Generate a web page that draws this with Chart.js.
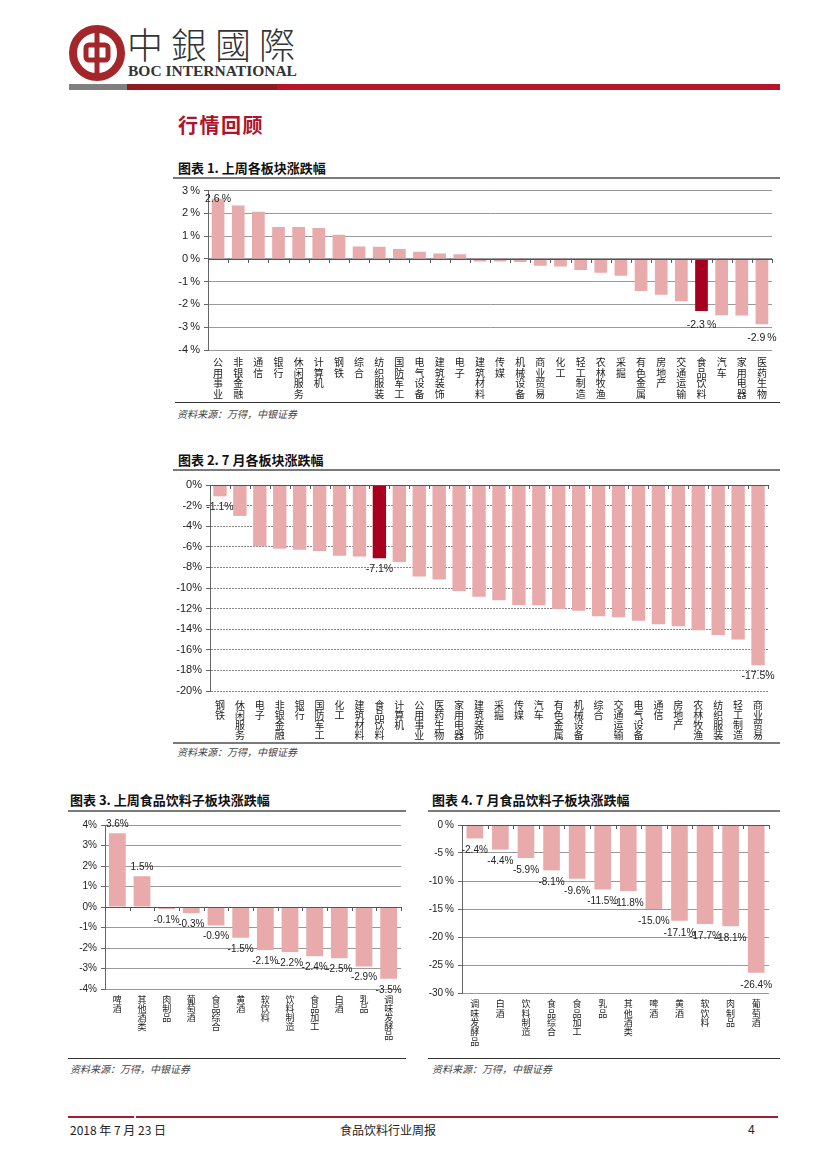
<!DOCTYPE html>
<html><head><meta charset="utf-8">
<script src="https://cdn.jsdelivr.net/npm/chart.js@4.4.0/dist/chart.umd.min.js"></script>
<style>
body{margin:0;background:#fff;}
#page{position:relative;width:827px;height:1169px;overflow:hidden;font-family:'Noto Sans CJK SC',sans-serif;color:#111;}
.abs{position:absolute;}
.title{font-weight:700;font-size:13px;color:#111;white-space:nowrap;line-height:16px;}
.src{font-style:italic;font-size:10px;color:#444;white-space:nowrap;line-height:12px;}
.hl{height:2px;background:#7a7a7a;}
.tl{height:1px;background:#333;}
.cbox{position:absolute;}
</style></head><body><div id="page">

<!-- header -->
<svg class="abs" style="left:68px;top:24px" width="60" height="58" viewBox="0 0 60 58">
  <circle cx="29" cy="29" r="24" fill="none" stroke="#A3262A" stroke-width="8"/>
  <rect x="18" y="21" width="22" height="15" rx="3" fill="none" stroke="#A3262A" stroke-width="5"/>
  <rect x="26.5" y="5" width="5" height="48" fill="#A3262A"/>
</svg>
<div class="abs" style="left:127px;top:20px;font-family:'Noto Sans CJK TC';font-weight:300;font-size:36px;letter-spacing:8px;line-height:46px;color:#333;white-space:nowrap">中銀國際</div>
<div class="abs" style="left:128px;top:62px;font-family:'Liberation Serif';font-weight:700;font-size:15.5px;line-height:18px;color:#333;white-space:nowrap">BOC INTERNATIONAL</div>
<div class="abs" style="left:69px;top:84px;width:58px;height:6px;background:#808080"></div>
<div class="abs" style="left:127px;top:84px;width:150px;height:6px;background:#8E1B22"></div>
<div class="abs" style="left:277px;top:84px;width:503px;height:6px;background:#B8142B"></div>

<div class="abs" style="left:178px;top:111px;font-size:20px;font-weight:700;color:#B0122B;letter-spacing:1.5px;line-height:28px;white-space:nowrap">行情回顾</div>

<!-- chart 1 -->
<div class="abs title" style="left:178px;top:160px">图表 1. 上周各板块涨跌幅</div>
<div class="abs hl" style="left:173px;top:177px;width:607px"></div>
<div class="cbox" style="left:160px;top:180px;width:620px;height:222px"><canvas id="c1"></canvas></div>
<div class="abs tl" style="left:175px;top:402px;width:605px"></div>
<div class="abs src" style="left:177px;top:408px">资料来源：万得，中银证券</div>

<!-- chart 2 -->
<div class="abs title" style="left:178px;top:452px">图表 2. 7 月各板块涨跌幅</div>
<div class="abs hl" style="left:173px;top:469px;width:607px"></div>
<div class="cbox" style="left:160px;top:474px;width:620px;height:270px"><canvas id="c2"></canvas></div>
<div class="abs hl" style="left:173px;top:742px;width:607px"></div>
<div class="abs src" style="left:177px;top:746px">资料来源：万得，中银证券</div>

<!-- chart 3 -->
<div class="abs title" style="left:70px;top:792px">图表 3. 上周食品饮料子板块涨跌幅</div>
<div class="abs hl" style="left:68px;top:810px;width:338px"></div>
<div class="cbox" style="left:60px;top:815px;width:350px;height:240px"><canvas id="c3"></canvas></div>
<div class="abs tl" style="left:68px;top:1058px;width:338px"></div>
<div class="abs src" style="left:70px;top:1063px">资料来源：万得，中银证券</div>

<!-- chart 4 -->
<div class="abs title" style="left:432px;top:792px">图表 4. 7 月食品饮料子板块涨跌幅</div>
<div class="abs hl" style="left:428px;top:810px;width:352px"></div>
<div class="cbox" style="left:420px;top:815px;width:360px;height:240px"><canvas id="c4"></canvas></div>
<div class="abs tl" style="left:428px;top:1058px;width:352px"></div>
<div class="abs src" style="left:432px;top:1063px">资料来源：万得，中银证券</div>

<!-- footer -->
<div class="abs" style="left:68px;top:1116px;width:66px;height:2px;background:#A51C2D"></div>
<div class="abs" style="left:136px;top:1116px;width:642px;height:2px;background:#A51C2D"></div>
<div class="abs" style="left:70px;top:1122px;font-size:12px;line-height:16px;color:#222;white-space:nowrap;font-family:'Liberation Sans Narrow','Noto Sans CJK SC',sans-serif">2018 年 7 月 23 日</div>
<div class="abs" style="left:340px;top:1122px;font-size:12px;line-height:16px;color:#222;white-space:nowrap">食品饮料行业周报</div>
<div class="abs" style="left:748px;top:1122px;font-size:12px;line-height:16px;color:#222;font-family:'Liberation Sans'">4</div>

</div>
<script>
// ---------------- data ----------------
const cat1 = ['公用事业','非银金融','通信','银行','休闲服务','计算机','钢铁','综合','纺织服装','国防军工','电气设备','建筑装饰','电子','建筑材料','传媒','机械设备','商业贸易','化工','轻工制造','农林牧渔','采掘','有色金属','房地产','交通运输','食品饮料','汽车','家用电器','医药生物'];
const val1 = [2.64,2.35,2.07,1.4,1.4,1.36,1.06,0.54,0.53,0.44,0.31,0.24,0.21,-0.11,-0.11,-0.14,-0.3,-0.33,-0.49,-0.61,-0.74,-1.41,-1.57,-1.86,-2.29,-2.47,-2.49,-2.87];
const lab1 = [0,24,27];
const yTicks1 = [3,2,1,0,-1,-2,-3,-4];

const cat2 = ['钢铁','休闲服务','电子','非银金融','银行','国防军工','化工','建筑材料','食品饮料','计算机','公用事业','医药生物','家用电器','建筑装饰','采掘','传媒','汽车','有色金属','机械设备','综合','交通运输','电气设备','通信','房地产','农林牧渔','纺织服装','轻工制造','商业贸易'];
const val2 = [-1.1,-3.0,-5.95,-6.18,-6.28,-6.4,-6.86,-6.93,-7.1,-7.48,-8.88,-9.17,-10.28,-10.86,-11.19,-11.64,-11.67,-12.03,-12.2,-12.75,-12.85,-13.17,-13.53,-13.72,-14.11,-14.57,-15.0,-17.5];
const lab2 = [0,8,27];
const yTicks2 = [0,-2,-4,-6,-8,-10,-12,-14,-16,-18,-20];

const cat3 = ['啤酒','其他酒类','肉制品','葡萄酒','食品综合','黄酒','软饮料','饮料制造','食品加工','白酒','乳品','调味发酵品'];
const val3 = [3.6,1.5,-0.1,-0.3,-0.9,-1.5,-2.1,-2.2,-2.4,-2.5,-2.9,-3.5];
const lab3 = [0,1,2,3,4,5,6,7,8,9,10,11];
const yTicks3 = [4,3,2,1,0,-1,-2,-3,-4];

const cat4 = ['调味发酵品','白酒','饮料制造','食品综合','食品加工','乳品','其他酒类','啤酒','黄酒','软饮料','肉制品','葡萄酒'];
const val4 = [-2.4,-4.4,-5.9,-8.1,-9.6,-11.5,-11.8,-15.0,-17.1,-17.7,-18.1,-26.4];
const lab4 = [0,1,2,3,4,5,6,7,8,9,10,11];
const yTicks4 = [0,-5,-10,-15,-20,-25,-30];

const PINK = '#E8AAAA', DARK = '#A6001E', HILITE = '食品饮料';

// ---------------- plugins ----------------
const dataLabels = {
  id: 'dl',
  afterDatasetsDraw(chart, args, o) {
    const meta = chart.getDatasetMeta(0), ctx = chart.ctx, d = chart.data.datasets[0].data;
    ctx.save();
    ctx.font = o.font; ctx.fillStyle = '#222'; ctx.textAlign = 'center'; ctx.textBaseline = 'middle';
    o.indices.forEach(i => {
      const el = meta.data[i], v = d[i];
      const y = v >= 0 ? el.y - o.posOff : el.y + o.negOff;
      ctx.fillText(v.toFixed(1) + o.suffix, el.x + (o.dx || 0), y);
    });
    ctx.restore();
  }
};
const zeroTicks = {
  id: 'zt',
  afterDatasetsDraw(chart, args, o) {
    const xs = chart.scales.x, ys = chart.scales.y, ctx = chart.ctx;
    const y0 = ys.getPixelForValue(0), n = chart.data.labels.length;
    const w = xs.getPixelForValue(1) - xs.getPixelForValue(0);
    const x0 = xs.getPixelForValue(0) - w / 2;
    ctx.save();
    ctx.strokeStyle = o.color; ctx.lineWidth = 1;
    ctx.beginPath();
    ctx.moveTo(chart.chartArea.left, Math.round(y0) + 0.5);
    ctx.lineTo(chart.chartArea.right, Math.round(y0) + 0.5);
    for (let i = 0; i <= n; i++) {
      const x = Math.round(x0 + i * w) + 0.5;
      ctx.moveTo(x, y0); ctx.lineTo(x, y0 + o.dir * o.len);
    }
    ctx.stroke();
    ctx.restore();
  }
};

function makeChart(id, cats, vals, c) {
  return new Chart(document.getElementById(id), {
    type: 'bar',
    data: {
      labels: cats.map(s => Array.from(s)),
      datasets: [{
        data: vals,
        backgroundColor: cats.map(s => s === HILITE && c.hilite ? DARK : PINK),
        barPercentage: c.barPct, categoryPercentage: 1
      }]
    },
    options: {
      responsive: true, maintainAspectRatio: false, animation: false,
      layout: { padding: { top: c.padTop, right: c.padRight, left: 0, bottom: 0 } },
      plugins: {
        legend: { display: false }, tooltip: { enabled: false },
        dl: { indices: c.labels, font: c.labelFont, suffix: c.labelSuffix, posOff: c.posOff, negOff: c.negOff },
        zt: { color: '#555', len: 4, dir: 1 }
      },
      scales: {
        x: {
          grid: { display: false, drawTicks: false },
          border: { display: false },
          ticks: { autoSkip: false, maxRotation: 0, minRotation: 0, padding: c.xPad, color: '#222',
                   font: { family: 'Noto Sans CJK SC', size: c.xFont, lineHeight: c.xLine } },
          afterFit: s => { s.height = c.xHeight; }
        },
        y: {
          min: Math.min(...c.yTicks), max: Math.max(...c.yTicks),
          afterBuildTicks: s => { s.ticks = c.yTicks.map(v => ({ value: v })); },
          grid: { color: c.gridColor, lineWidth: 1, tickLength: 4, tickColor: '#666' },
          border: { display: true, color: '#666', dash: c.dash || [] },
          ticks: { color: '#222', padding: 4, font: { family: 'Liberation Sans', size: c.yFont },
                   callback: v => v + c.tickSuffix },
          afterFit: s => { s.width = c.yWidth; }
        }
      }
    },
    plugins: [dataLabels, zeroTicks]
  });
}

makeChart('c1', cat1, val1, { hilite: true, barPct: 0.63, padTop: 7, padRight: 8, yWidth: 48, xHeight: 52,
  xPad: 7, xFont: 10, xLine: 1.05, yFont: 11, yTicks: yTicks1, tickSuffix: '\u2009%', gridColor: '#999',
  labels: lab1, labelFont: '10.5px "Liberation Sans"', labelSuffix: '\u2009%', posOff: 0, negOff: 14 });

makeChart('c2', cat2, val2, { hilite: true, barPct: 0.67, padTop: 11, padRight: 12, yWidth: 50, xHeight: 53,
  xPad: 9, xFont: 10, xLine: 1.0, yFont: 11, yTicks: yTicks2, tickSuffix: '%', gridColor: '#888', dash: [2, 1],
  labels: lab2, labelFont: '10.5px "Liberation Sans"', labelSuffix: '%', posOff: 0, negOff: 11 });

makeChart('c3', cat3, val3, { hilite: false, barPct: 0.68, padTop: 8, padRight: 9, yWidth: 45, xHeight: 66,
  xPad: 6, xFont: 9, xLine: 1.0, yFont: 10, yTicks: yTicks3, tickSuffix: '%', gridColor: '#999',
  labels: lab3, labelFont: '10px "Liberation Sans"', labelSuffix: '%', posOff: 9, negOff: 11 });

makeChart('c4', cat4, val4, { hilite: false, barPct: 0.65, padTop: 8, padRight: 11, yWidth: 42, xHeight: 62,
  xPad: 6, xFont: 9, xLine: 1.05, yFont: 10, yTicks: yTicks4, tickSuffix: '\u2009%', gridColor: '#999',
  labels: lab4, labelFont: '10px "Liberation Sans"', labelSuffix: '%', posOff: 9, negOff: 12 });
</script>
</body></html>
